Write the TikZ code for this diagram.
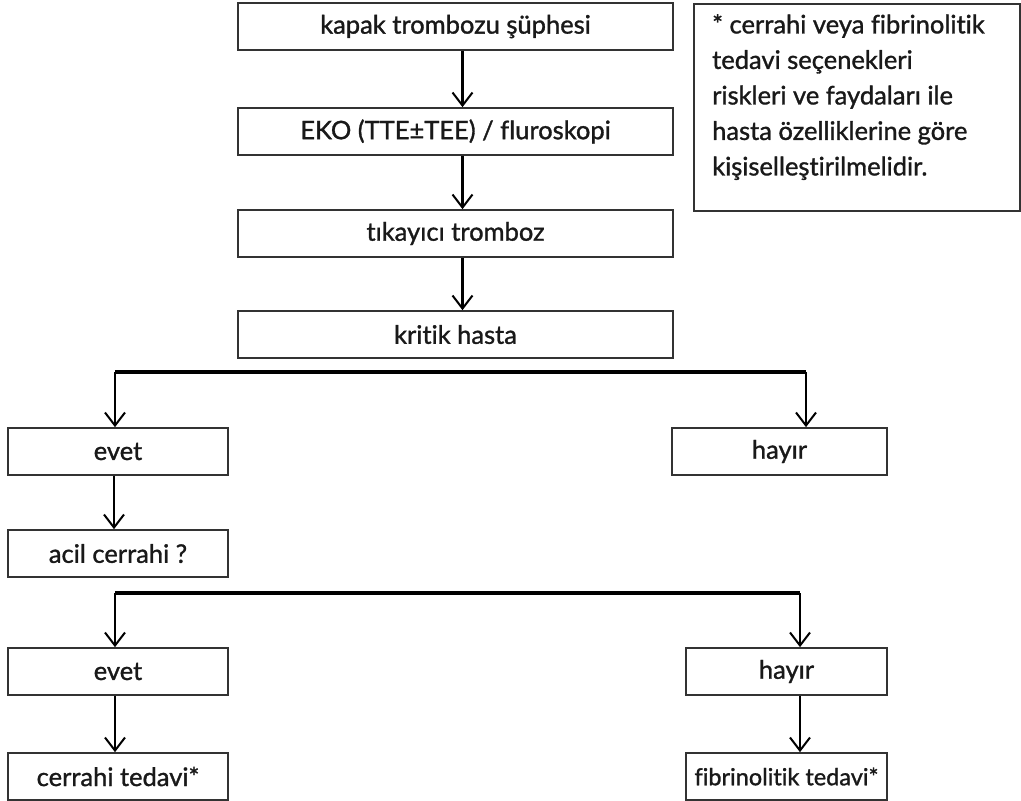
\documentclass[tikz,border=0pt]{standalone}
\usepackage{fontspec}
\setmainfont{Lato}[FakeBold=1.2, Ligatures={NoCommon}]
\usetikzlibrary{arrows.meta}
\begin{document}
\begin{tikzpicture}[x=1pt,y=-1pt,
  box/.style={draw=black!80, line width=1.7pt, minimum height=47pt, inner sep=0pt,
    font=\fontsize{25.5}{30}\selectfont, text=black!90},
  arr/.style={-{Straight Barb[length=13pt,width=20pt,line width=2pt]}, line width=2.3pt},
  bus/.style={line width=3.4pt}]
\useasboundingbox (0,0) rectangle (1021,801);
\fill[white] (0,0) rectangle (1021,801);
% main column
\node[box, minimum width=435pt] (b1) at (455.5,26.5) {kapak trombozu şüphesi};
\node[box, minimum width=435pt] (b2) at (455.5,131.5) {EKO (TTE±TEE) / fluroskopi};
\node[box, minimum width=435pt] (b3) at (455.5,233.5) {tıkayıcı tromboz};
\node[box, minimum width=435pt] (b4) at (455.5,334.5) {kritik hasta};
% first branch
\node[box, minimum width=220pt] (e1) at (118,451.5) {evet};
\node[box, minimum width=215pt] (h1) at (779.5,451.5) {hayır};
\node[box, minimum width=220pt] (ac) at (118,553.5) {acil cerrahi ?};
% second branch
\node[box, minimum width=220pt] (e2) at (118,671.5) {evet};
\node[box, minimum width=201pt] (h2) at (786.5,671.5) {hayır};
\node[box, minimum width=220pt] (ct) at (118,776.5) {cerrahi tedavi*};
\node[box, minimum width=201pt, font=\fontsize{23.5}{28}\selectfont] (ft) at (786.5,776.5) {fibrinolitik tedavi*};
% note
\node[draw=black!80, line width=1.7pt, minimum width=326pt, minimum height=207pt,
  inner sep=0pt, anchor=north west] (note) at (693,3) {};
\node[anchor=north west, align=left, inner sep=0pt, text=black!90,
  font=\fontsize{25.5}{35.5}\selectfont] (notetext) at ([xshift=19pt,yshift=-11pt]note.north west)
  {* cerrahi veya fibrinolitik\\ tedavi seçenekleri\\ riskleri ve faydaları ile\\ hasta özelliklerine göre\\ kişiselleştirilmelidir.};
% connectors
\draw[arr] ([xshift=7pt]b1.south) -- ([xshift=7pt]b2.north);
\draw[arr] ([xshift=7pt]b2.south) -- ([xshift=7pt]b3.north);
\draw[arr] ([xshift=7pt]b3.south) -- ([xshift=7pt]b4.north);
\coordinate (j1) at (115,372);
\coordinate (j2) at (806,372);
\draw[bus] (j1) -- (j2);
\draw[arr] (j1) -- (j1 |- e1.north);
\draw[arr] (j2) -- (j2 |- h1.north);
\draw[arr] ([xshift=-4pt]e1.south) -- ([xshift=-4pt]ac.north);
\coordinate (k1) at (115,593);
\coordinate (k2) at (800,593);
\draw[bus] (k1) -- (k2);
\draw[arr] (k1) -- (k1 |- e2.north);
\draw[arr] (k2) -- (k2 |- h2.north);
\draw[arr] (k1 |- e2.south) -- (k1 |- ct.north);
\draw[arr] (k2 |- h2.south) -- (k2 |- ft.north);
\end{tikzpicture}
\end{document}
